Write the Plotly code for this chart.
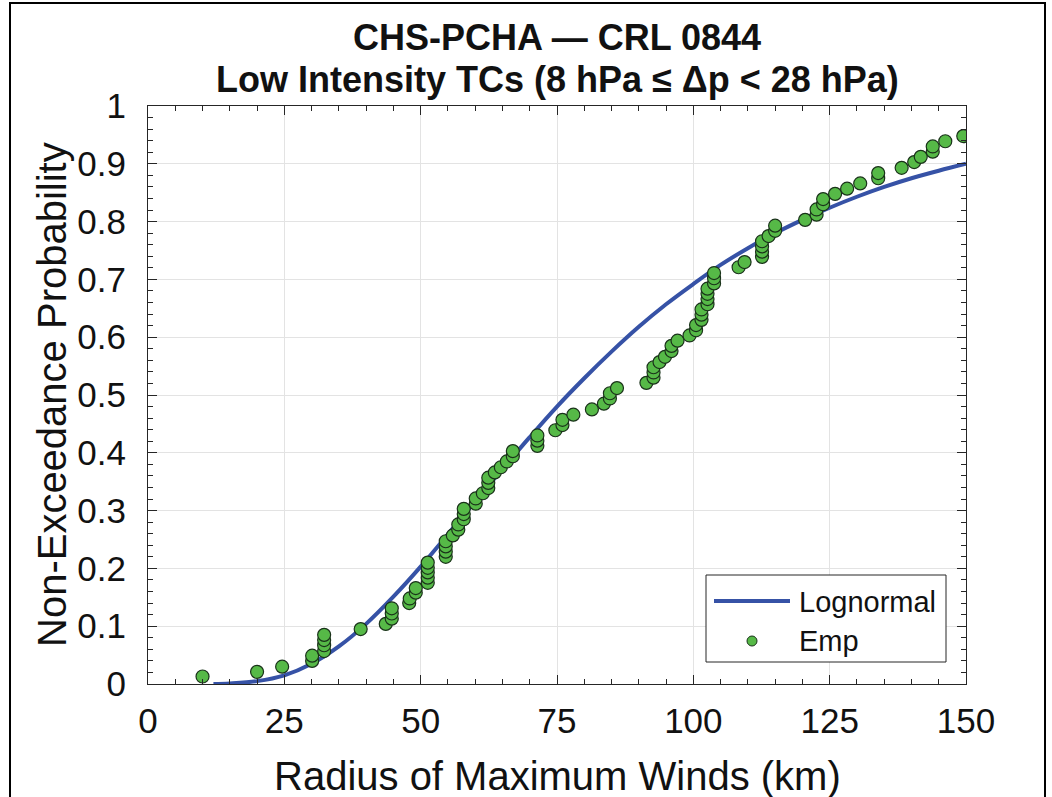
import plotly.graph_objects as go

emp_x = [10.0, 20.0, 24.6, 30.1, 30.1, 32.3, 32.3, 32.3, 32.3, 39.0,
         43.6, 44.7, 44.7, 44.7, 47.9, 48.0, 49.1, 49.1, 51.3, 51.3,
         51.3, 51.3, 51.3, 54.6, 54.6, 54.6, 54.6, 55.9, 56.9, 56.9,
         57.9, 57.9, 57.9, 60.1, 60.1, 61.4, 62.4, 62.4, 62.4, 63.6,
         64.7, 65.8, 66.9, 66.9, 71.4, 71.4, 71.4, 74.7, 76.0, 76.0,
         78.0, 81.4, 83.6, 84.7, 84.7, 86.0, 91.4, 92.7, 92.7, 92.7,
         93.8, 94.8, 96.0, 96.0, 97.1, 99.3, 100.5, 100.5, 101.5, 101.5,
         101.5, 102.6, 102.6, 102.6, 102.6, 103.8, 103.8, 103.8, 108.3, 109.4,
         112.6, 112.6, 112.6, 112.6, 113.8, 115.0, 115.0, 120.5, 122.6, 122.6,
         123.8, 123.8, 126.0, 128.2, 130.6, 133.9, 133.9, 138.2, 140.5, 141.7,
         143.9, 143.9, 146.2, 149.5]
emp_y = [0.013, 0.021, 0.030, 0.040, 0.049, 0.057, 0.067, 0.076, 0.085, 0.095,
         0.104, 0.113, 0.122, 0.131, 0.140, 0.148, 0.158, 0.166, 0.175, 0.184,
         0.193, 0.201, 0.210, 0.220, 0.229, 0.238, 0.247, 0.257, 0.267, 0.276,
         0.285, 0.294, 0.303, 0.312, 0.321, 0.330, 0.339, 0.348, 0.357, 0.366,
         0.375, 0.385, 0.394, 0.403, 0.412, 0.421, 0.430, 0.439, 0.448, 0.457,
         0.466, 0.475, 0.485, 0.494, 0.503, 0.512, 0.521, 0.530, 0.539, 0.548,
         0.557, 0.566, 0.576, 0.585, 0.594, 0.603, 0.612, 0.621, 0.630, 0.639,
         0.648, 0.657, 0.666, 0.675, 0.684, 0.693, 0.702, 0.711, 0.721, 0.730,
         0.739, 0.748, 0.757, 0.766, 0.775, 0.784, 0.793, 0.803, 0.812, 0.821,
         0.830, 0.839, 0.848, 0.857, 0.866, 0.875, 0.884, 0.893, 0.903, 0.912,
         0.921, 0.930, 0.939, 0.948]

# Lognormal fitted CDF
logn_x = [12, 15, 20, 25, 30, 35, 40, 45, 50, 55, 60, 65, 70, 75, 80, 85,
          90, 95, 100, 105, 110, 115, 120, 125, 130, 135, 140, 145, 150]
logn_y = [0.000, 0.001, 0.005, 0.015, 0.035, 0.065, 0.104, 0.151, 0.203, 0.259,
          0.316, 0.372, 0.427, 0.480, 0.529, 0.575, 0.618, 0.657, 0.692, 0.725,
          0.754, 0.780, 0.803, 0.824, 0.843, 0.860, 0.875, 0.888, 0.900]

x_ticks = [0, 25, 50, 75, 100, 125, 150]
y_ticks = [0, 0.1, 0.2, 0.3, 0.4, 0.5, 0.6, 0.7, 0.8, 0.9, 1]
y_tick_text = ["0", "0.1", "0.2", "0.3", "0.4", "0.5", "0.6", "0.7", "0.8", "0.9", "1"]

title_lines = ["CHS-PCHA \u2014 CRL 0844", "Low Intensity TCs (8 hPa \u2264 \u0394p < 28 hPa)"]
x_title = "Radius of Maximum Winds (km)"
y_title = "Non-Exceedance Probability"
legend_names = ["Lognormal", "Emp"]

FONT = "Liberation Sans, Arial, sans-serif"
LINE_COLOR = "#3652A6"
MARK_COLOR = "#56B947"
MARK_EDGE = "#1A321A"

# plot-area pixel geometry
L, R, T, B = 148, 966, 106, 684
W, H = R - L, B - T


def px(xp):
    return (xp - L) / W


def py(yp):
    return (B - yp) / H


fig = go.Figure()
fig.add_trace(go.Scatter(
    x=logn_x, y=logn_y, mode="lines", name=legend_names[0],
    line=dict(color=LINE_COLOR, width=4, shape="spline"), showlegend=False,
))
fig.add_trace(go.Scatter(
    x=emp_x, y=emp_y, mode="markers", name=legend_names[1],
    marker=dict(color=MARK_COLOR, size=13, line=dict(color=MARK_EDGE, width=1.2)),
    showlegend=False,
))

axis_common = dict(
    showline=True, linecolor="#262626", linewidth=1, mirror="allticks",
    ticks="inside", ticklen=9, tickcolor="#262626",
    showgrid=True, gridcolor="#E3E3E3", gridwidth=1, zeroline=False,
    tickfont=dict(family=FONT, size=35, color="#111111"),
)

fig.update_xaxes(
    range=[0, 150], tickvals=x_ticks, ticklabelstandoff=6,
    minor=dict(dtick=5, ticks="inside", ticklen=5, tickcolor="#262626", showgrid=False),
    **axis_common,
)
fig.update_yaxes(
    range=[0, 1], tickvals=y_ticks, ticktext=y_tick_text, ticklabelstandoff=14,
    minor=dict(dtick=0.02, ticks="inside", ticklen=5, tickcolor="#262626", showgrid=False),
    **axis_common,
)

annotations = [
    dict(text="<b>" + title_lines[0] + "</b>", x=0.5, y=py(37)),
    dict(text="<b>" + title_lines[1] + "</b>", x=0.5, y=py(80)),
]
for a in annotations:
    a.update(xref="paper", yref="paper", xanchor="center", yanchor="middle",
             showarrow=False, font=dict(family=FONT, size=36, color="#111111"))

annotations.append(dict(text=x_title, x=0.5, y=py(776), xref="paper", yref="paper",
                        xanchor="center", yanchor="middle", showarrow=False,
                        font=dict(family=FONT, size=40, color="#111111")))
annotations.append(dict(text=y_title, x=px(52), y=0.5, xref="paper", yref="paper",
                        xanchor="center", yanchor="middle", showarrow=False, textangle=-90,
                        font=dict(family=FONT, size=40, color="#111111")))
# legend texts
annotations.append(dict(text=legend_names[0], x=px(797), y=py(602), xref="paper", yref="paper",
                        xanchor="left", yanchor="middle", showarrow=False,
                        font=dict(family=FONT, size=29, color="#111111")))
annotations.append(dict(text=legend_names[1], x=px(797), y=py(641), xref="paper", yref="paper",
                        xanchor="left", yanchor="middle", showarrow=False,
                        font=dict(family=FONT, size=29, color="#111111")))

shapes = [
    # figure frame
    dict(type="rect", xref="paper", yref="paper",
         x0=px(10), x1=px(1045), y0=py(810), y1=py(3),
         line=dict(color="black", width=2), fillcolor="rgba(0,0,0,0)", layer="below"),
    # legend box
    dict(type="rect", xref="paper", yref="paper",
         x0=px(706), x1=px(946), y0=py(662), y1=py(575),
         line=dict(color="#262626", width=1), fillcolor="white", layer="above"),
    # legend line sample
    dict(type="line", xref="paper", yref="paper",
         x0=px(714), x1=px(790), y0=py(601), y1=py(601),
         line=dict(color=LINE_COLOR, width=4), layer="above"),
    # legend marker sample
    dict(type="circle", xref="paper", yref="paper",
         x0=px(747), x1=px(757), y0=py(646), y1=py(636),
         line=dict(color=MARK_EDGE, width=1), fillcolor=MARK_COLOR, layer="above"),
]

fig.update_layout(
    width=1052, height=797,
    margin=dict(l=L, r=1052 - R, t=T, b=797 - B),
    paper_bgcolor="white", plot_bgcolor="white",
    showlegend=False,
    annotations=annotations,
    shapes=shapes,
)

fig.write_html("out.html")
